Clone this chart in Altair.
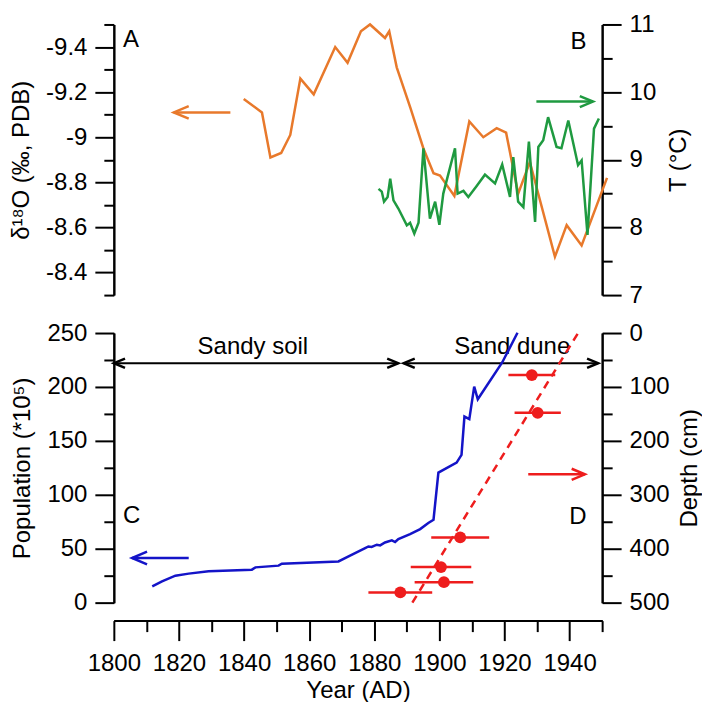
import altair as alt
import pandas as pd

FONT = "Liberation Sans"
ORANGE = "#E8792B"
GREEN = "#1F9A40"
BLUE = "#1414C8"
RED = "#EE1D1D"
BLACK = "#000000"

# ---------------------------------------------------------------- data ----
# (A) oxygen isotope record (per mil, PDB)
d18o_year = [1839.9, 1845.5, 1848.1, 1851.4, 1854.2, 1857.3, 1861.4, 1868.0,
             1871.8, 1875.9, 1878.7, 1883.3, 1884.6, 1886.9, 1891.1, 1895.1,
             1898.2, 1900.2, 1904.6, 1909.2, 1913.5, 1917.6, 1920.5, 1924.2,
             1927.8, 1935.5, 1939.1, 1943.7, 1951.5]
d18o_value = [-9.17, -9.11, -8.91, -8.93, -9.01, -9.26, -9.19, -9.40,
              -9.33, -9.47, -9.50, -9.44, -9.47, -9.31, -9.13, -8.95,
              -8.84, -8.83, -8.74, -9.07, -9.00, -9.04, -9.02, -8.75,
              -8.89, -8.47, -8.61, -8.52, -8.82]

# (B) reconstructed temperature (deg C)
temp_year = [1881.3, 1882.3, 1883.0, 1884.1, 1884.9, 1885.9, 1887.4, 1890.0,
             1891.0, 1892.3, 1893.6, 1895.1, 1897.1, 1898.7, 1900.0, 1901.2,
             1904.8, 1905.6, 1907.4, 1908.9, 1911.4, 1914.0, 1917.1, 1919.3,
             1921.7, 1922.7, 1924.2, 1925.8, 1927.5, 1929.4, 1930.4, 1931.9,
             1933.4, 1936.0, 1937.5, 1939.6, 1942.6, 1943.7, 1945.5, 1947.5,
             1949.0]
temp_value = [8.57, 8.53, 8.38, 8.45, 8.72, 8.40, 8.28, 8.03,
              8.07, 7.91, 8.07, 9.17, 8.13, 8.38, 8.04, 8.50,
              9.17, 8.50, 8.54, 8.45, 8.61, 8.78, 8.65, 8.93,
              8.45, 9.04, 8.38, 8.30, 9.27, 8.08, 9.19, 9.29,
              9.63, 9.19, 9.17, 9.58, 8.92, 8.99, 7.89, 9.46,
              9.61]

# (C) population (x 10^5)
pop_year = [1811.8, 1814.8, 1818.9, 1823.0, 1829.1, 1842.4, 1843.5, 1850.6,
            1851.6, 1869.0, 1872.1, 1877.2, 1878.2, 1879.2, 1880.8, 1881.8,
            1883.3, 1885.4, 1886.4, 1887.4, 1891.0, 1894.1, 1896.6, 1898.2,
            1899.7, 1905.3, 1906.8, 1907.7, 1909.2, 1910.7, 1911.8, 1919.3,
            1924.0]
pop_value = [15.1, 19.7, 25.0, 26.9, 29.0, 30.6, 32.7, 34.3,
             36.1, 38.2, 42.9, 50.6, 52.1, 51.6, 53.7, 53.1,
             55.8, 57.7, 56.2, 59.0, 63.6, 68.2, 73.8, 76.9,
             120.6, 129.9, 137.0, 172.5, 170.1, 200.3, 188.6, 222.7,
             250.3]

# (D) dated samples: age (AD), age uncertainty (+/- yr), depth (cm)
date_year = [1928.4, 1930.2, 1906.4, 1900.5, 1901.4, 1888.0]
date_err = [7.2, 7.1, 8.9, 9.3, 9.0, 9.8]
date_depth = [78, 148, 379, 434, 462, 481]

# linear age-depth model
fit_year = [1891.7, 1942.6]
fit_depth = [500, 0]

# depositional phases
phase_name = ["Sandy soil", "Sand dune"]
phase_start = [1800.0, 1889.0]
phase_end = [1887.4, 1948.8]
phase_label_year = [1842.7, 1922.4]

# tick positions (labelled / unlabelled)
d18o_major = [-9.4, -9.2, -9, -8.8, -8.6, -8.4]
d18o_minor = [-9.5, -9.3, -9.1, -8.9, -8.7, -8.5, -8.3]
temp_major = [7, 8, 9, 10, 11]
temp_minor = [7.5, 8.5, 9.5, 10.5]
pop_major = [0, 50, 100, 150, 200, 250]
pop_minor = [25, 75, 125, 175, 225]
depth_major = [0, 100, 200, 300, 400, 500]
depth_minor = [50, 150, 250, 350, 450]
year_major = [1800, 1820, 1840, 1860, 1880, 1900, 1920, 1940]
year_minor = [1810, 1830, 1850, 1870, 1890, 1910, 1930, 1950]

# ------------------------------------------------------------- scales -----
X_SCALE = alt.Scale(domain=[1800, 1950], nice=False, zero=False)
D18O_SCALE = alt.Scale(domain=[-9.5, -8.3], reverse=True, nice=False, zero=False)
T_SCALE = alt.Scale(domain=[7, 11], nice=False, zero=False)
POP_SCALE = alt.Scale(domain=[0, 250], nice=False)
DEPTH_SCALE = alt.Scale(domain=[0, 500], reverse=True, nice=False)

AXIS_BASE = dict(
    grid=False, tickColor=BLACK, tickWidth=2, domainColor=BLACK, domainWidth=2,
    labelFont=FONT, labelFontSize=24, labelColor=BLACK, labelPadding=8,
    labelFlush=False, labelOverlap=False,
    titleFont=FONT, titleFontSize=24, titleFontWeight="normal", titleColor=BLACK,
)


def major_axis(orient, values, title, size=19, **extra):
    props = dict(AXIS_BASE, orient=orient, values=values, title=title, tickSize=size,
                 labelExpr="toString(datum.value)")
    props.update(extra)
    return alt.Axis(**props)


def minor_axis(orient, values, size=10, **extra):
    props = dict(AXIS_BASE, orient=orient, values=values, title=None, tickSize=size,
                 labels=False)
    props.update(extra)
    return alt.Axis(**props)


LEFT_HEAD = "M 1 -0.42 L 0 0 L 1 0.42"
RIGHT_HEAD = "M -1 -0.42 L 0 0 L -1 0.42"


def xenc(field, axis=None):
    return alt.X(f"{field}:Q", scale=X_SCALE, axis=axis)


def arrow(x_from, x_to, y, yscale, color, size, width=2.5, yaxis=None):
    """Horizontal arrow from x_from to x_to (head at x_to)."""
    df = pd.DataFrame({"a": [x_from], "b": [x_to], "y": [y]})
    head = LEFT_HEAD if x_to < x_from else RIGHT_HEAD
    shaft = alt.Chart(df).mark_rule(color=color, strokeWidth=width).encode(
        x=xenc("a"), x2="b:Q", y=alt.Y("y:Q", scale=yscale, axis=yaxis))
    tip = alt.Chart(df).mark_point(shape=head, size=size, filled=False, color=color,
                                   strokeWidth=width, opacity=1).encode(
        x=xenc("b"), y=alt.Y("y:Q", scale=yscale, axis=None))
    return [shaft, tip]


def label(text, x, y, yscale, align):
    df = pd.DataFrame({"x": [x], "y": [y], "t": [text]})
    return alt.Chart(df).mark_text(font=FONT, fontSize=24, color=BLACK, align=align,
                                   baseline="alphabetic").encode(
        x=xenc("x"), y=alt.Y("y:Q", scale=yscale, axis=None), text="t:N")


# ---------------------------------------------------------- upper panel ---
iso_df = pd.DataFrame({"year": d18o_year, "d18o": d18o_value})
iso_line = alt.Chart(iso_df).mark_line(color=ORANGE, strokeWidth=2.5).encode(
    x=xenc("year"),
    y=alt.Y("d18o:Q", scale=D18O_SCALE,
            axis=major_axis("left", d18o_major, "δ¹⁸O (‰, PDB)", titlePadding=12)))
upper_left = alt.layer(
    iso_line,
    *arrow(1835.8, 1818.4, -9.11, D18O_SCALE, ORANGE, 900,
           yaxis=minor_axis("left", d18o_minor)),
    label("A", 1802.8, -9.40, D18O_SCALE, "left"),
).resolve_axis(y="independent")

temp_df = pd.DataFrame({"year": temp_year, "temp": temp_value})
temp_line = alt.Chart(temp_df).mark_line(color=GREEN, strokeWidth=2.5).encode(
    x=xenc("year"),
    y=alt.Y("temp:Q", scale=T_SCALE,
            axis=major_axis("right", temp_major, "T (°C)", titleAngle=270,
                            titleBaseline="top", titlePadding=11)))
upper_right = alt.layer(
    temp_line,
    *arrow(1929.8, 1947.2, 9.86, T_SCALE, GREEN, 700,
           yaxis=minor_axis("right", temp_minor)),
    label("B", 1945.2, 10.64, T_SCALE, "right"),
).resolve_axis(y="independent")

upper = alt.layer(upper_left, upper_right).resolve_scale(y="independent").properties(
    width=489, height=271)

# ---------------------------------------------------------- lower panel ---
phase_df = pd.DataFrame({"name": phase_name, "start": phase_start, "end": phase_end,
                         "mid": phase_label_year, "y": [222.0, 222.0], "ty": [230.5, 230.5]})
phase_rule = alt.Chart(phase_df).mark_rule(color=BLACK, strokeWidth=2).encode(
    x=xenc("start", minor_axis("bottom", year_minor, size=11, offset=18)),
    x2="end:Q",
    y=alt.Y("y:Q", scale=POP_SCALE, axis=minor_axis("left", pop_minor)))
phase_left = alt.Chart(phase_df).mark_point(shape=LEFT_HEAD, size=500, filled=False,
                                            color=BLACK, strokeWidth=2.5, opacity=1).encode(
    x=xenc("start"), y=alt.Y("y:Q", scale=POP_SCALE, axis=None))
phase_right = alt.Chart(phase_df).mark_point(shape=RIGHT_HEAD, size=500, filled=False,
                                             color=BLACK, strokeWidth=2.5, opacity=1).encode(
    x=xenc("end"), y=alt.Y("y:Q", scale=POP_SCALE, axis=None))
phase_text = alt.Chart(phase_df).mark_text(font=FONT, fontSize=24, color=BLACK,
                                           align="center", baseline="alphabetic").encode(
    x=xenc("mid"), y=alt.Y("ty:Q", scale=POP_SCALE, axis=None), text="name:N")

pop_df = pd.DataFrame({"year": pop_year, "pop": pop_value})
pop_line = alt.Chart(pop_df).mark_line(color=BLUE, strokeWidth=2.5).encode(
    x=xenc("year", major_axis("bottom", year_major, "Year (AD)", size=20, offset=18,
                              labelPadding=11, titlePadding=3)),
    y=alt.Y("pop:Q", scale=POP_SCALE,
            axis=major_axis("left", pop_major, "Population (*10⁵)", titlePadding=12)))

lower_left = alt.layer(
    phase_text, phase_rule, phase_left, phase_right,
    pop_line,
    *arrow(1823.0, 1805.6, 41.4, POP_SCALE, BLUE, 900),
    label("C", 1802.8, 73.8, POP_SCALE, "left"),
).resolve_axis(x="independent", y="independent")

dates_df = pd.DataFrame({"year": date_year, "err": date_err, "depth": date_depth})
dates_df["lo"] = dates_df["year"] - dates_df["err"]
dates_df["hi"] = dates_df["year"] + dates_df["err"]
fit_df = pd.DataFrame({"year": fit_year, "depth": fit_depth})

err_bars = alt.Chart(dates_df).mark_rule(color=RED, strokeWidth=2.5).encode(
    x=xenc("lo"), x2="hi:Q",
    y=alt.Y("depth:Q", scale=DEPTH_SCALE,
            axis=major_axis("right", depth_major, "Depth (cm)", titleAngle=270,
                            titleBaseline="top", titlePadding=8)))
fit_line = alt.Chart(fit_df).mark_line(color=RED, strokeWidth=2.5, strokeDash=[8, 6]).encode(
    x=xenc("year"),
    y=alt.Y("depth:Q", scale=DEPTH_SCALE, axis=minor_axis("right", depth_minor)))
date_pts = alt.Chart(dates_df).mark_circle(color=RED, size=140, opacity=1).encode(
    x=xenc("year"), y=alt.Y("depth:Q", scale=DEPTH_SCALE, axis=None))

lower_right = alt.layer(
    err_bars, fit_line, date_pts,
    *arrow(1927.3, 1944.7, 262, DEPTH_SCALE, RED, 700),
    label("D", 1945.2, 354, DEPTH_SCALE, "right"),
).resolve_axis(y="independent")

lower = alt.layer(lower_left, lower_right).resolve_scale(y="independent").properties(
    width=489, height=270)

chart = (
    alt.vconcat(upper, lower, spacing=38, bounds="flush")
    .properties(padding={"left": 9, "top": 12, "right": 0, "bottom": 0})
    .configure(font=FONT, background="white")
    .configure_view(stroke=None)
)

chart.save("out.html", embed_options={"renderer": "svg", "actions": False})
